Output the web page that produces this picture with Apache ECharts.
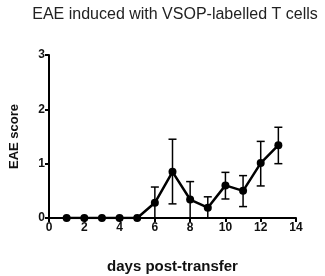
<!DOCTYPE html>
<html>
<head>
<meta charset="utf-8">
<script src="https://cdn.jsdelivr.net/npm/echarts@6/dist/echarts.min.js"></script>
<style>
    html, body { margin: 0; padding: 0; background: #fff; }
    #chart { width: 325px; height: 276px; }
</style>
</head>
<body>
<div id="chart"></div>
<script>
// mean EAE score per day, with error bar ends
const days = [1, 2, 3, 4, 5, 6, 7, 8, 9, 10, 11, 12, 13];
const scores = [0, 0, 0, 0, 0, 0.28, 0.85, 0.34, 0.19, 0.6, 0.5, 1.01, 1.34];
const errLow = [0, 0, 0, 0, 0, 0, 0.26, 0, 0, 0.35, 0.21, 0.59, 1.0];
const errHigh = [0, 0, 0, 0, 0, 0.57, 1.45, 0.67, 0.39, 0.84, 0.78, 1.41, 1.67];

const lineData = days.map((d, i) => [d, scores[i]]);
const errData = days.map((d, i) => [d, errLow[i], errHigh[i]]);

const axisFont = { color: '#111', fontWeight: 'bold', fontSize: 12, fontFamily: 'Liberation Sans' };

const option = {
    animation: false,
    title: {
        text: 'EAE induced with VSOP-labelled T cells',
        left: 170,
        textAlign: 'center',
        top: 2,
        textStyle: { fontSize: 16, fontWeight: 'normal', color: '#222', fontFamily: 'Liberation Sans' }
    },
    grid: { left: 49, right: 29, top: 55, bottom: 58, outerBoundsMode: 'none', containLabel: false },
    xAxis: {
        type: 'value',
        min: 0,
        max: 14,
        interval: 2,
        name: 'days post-transfer',
        nameLocation: 'middle',
        nameGap: 41,
        nameTextStyle: { fontSize: 15, fontWeight: 'bold', color: '#111', fontFamily: 'Liberation Sans' },
        axisLine: { lineStyle: { color: '#000', width: 2 } },
        axisTick: { length: 4, lineStyle: { color: '#000', width: 2 } },
        axisLabel: Object.assign({ margin: 4 }, axisFont),
        splitLine: { show: false }
    },
    yAxis: {
        type: 'value',
        min: 0,
        max: 3,
        interval: 1,
        name: 'EAE score',
        nameLocation: 'middle',
        nameGap: 28,
        nameTextStyle: { fontSize: 13, fontWeight: 'bold', color: '#111', fontFamily: 'Liberation Sans' },
        axisLine: { show: true, lineStyle: { color: '#000', width: 2 } },
        axisTick: { show: true, length: 4, lineStyle: { color: '#000', width: 2 } },
        axisLabel: Object.assign({ margin: 4 }, axisFont),
        splitLine: { show: false }
    },
    series: [
        {
            type: 'custom',
            data: errData,
            z: 3,
            renderItem: function (params, api) {
                const x = api.value(0);
                const lo = api.coord([x, api.value(1)]);
                const hi = api.coord([x, api.value(2)]);
                if (api.value(2) - api.value(1) <= 0) return null;
                const w = 4;
                const style = { stroke: '#000', lineWidth: 1.5 };
                const children = [
                    { type: 'line', shape: { x1: lo[0], y1: lo[1], x2: hi[0], y2: hi[1] }, style: style },
                    { type: 'line', shape: { x1: hi[0] - w, y1: hi[1], x2: hi[0] + w, y2: hi[1] }, style: style }
                ];
                if (api.value(1) > 0) {
                    children.push({ type: 'line', shape: { x1: lo[0] - w, y1: lo[1], x2: lo[0] + w, y2: lo[1] }, style: style });
                }
                return { type: 'group', children: children };
            }
        },
        {
            type: 'line',
            data: lineData,
            z: 4,
            symbol: 'circle',
            symbolSize: 8,
            itemStyle: { color: '#000' },
            lineStyle: { color: '#000', width: 2.5 }
        }
    ]
};

const chart = echarts.init(document.getElementById('chart'));
chart.setOption(option);
</script>
</body>
</html>
